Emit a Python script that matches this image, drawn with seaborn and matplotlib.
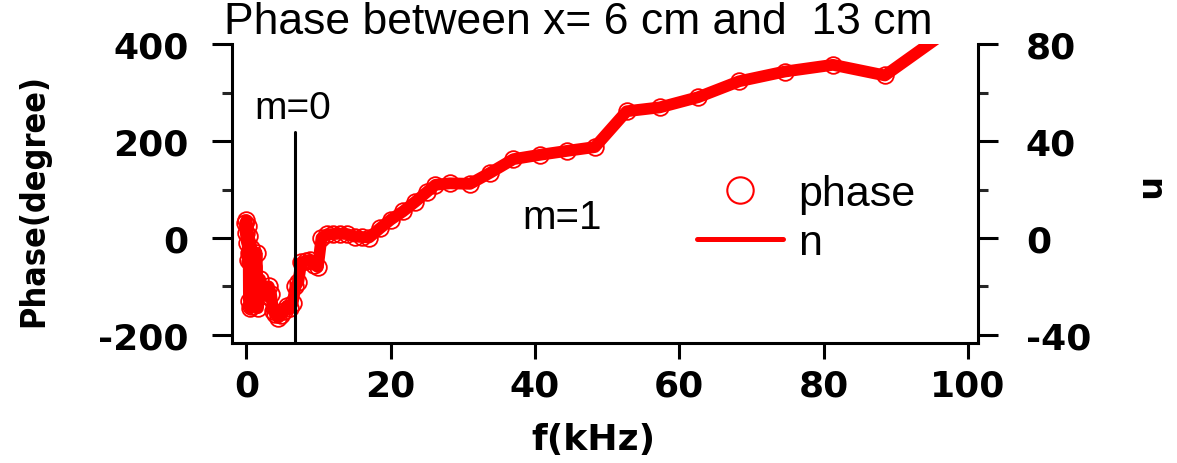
import matplotlib
matplotlib.use("Agg")
import matplotlib.pyplot as plt
import seaborn as sns
import pandas as pd
from matplotlib.lines import Line2D
from matplotlib.ticker import MultipleLocator

# ---- data ----
freq_khz = [-0.2, -0.1, 0.0, 0.1, 0.15, 0.2, 0.3, 0.35, 0.4, 0.5,
            0.55, 0.6, 0.7, 0.8, 0.9, 1.0, 1.2, 1.4, 1.6, 1.9,
            2.2, 2.5, 2.8, 3.1, 3.4, 3.7, 4.0, 4.4, 4.8, 5.2,
            5.6, 6.0, 6.4, 6.8, 7.2, 7.6, 8.2, 8.8, 9.4, 9.9,
            10.4, 11.2, 12.0, 13.0, 14.0, 15.0, 16.0, 17.0, 18.5, 20.0,
            21.7, 23.4, 25.0, 26.2, 28.2, 31.0, 33.8, 37.0, 40.7, 44.4,
            48.3, 52.7, 57.3, 62.6, 68.3, 74.6, 81.3, 88.5, 98.0]
phase_deg = [30, 10, 37, -10, 25, -45, 5, -130, -30, -145,
             -50, -140, -20, -125, -60, -135, -100, -30, -145, -85,
             -110, -105, -120, -100, -115, -150, -158, -165, -160, -150,
             -140, -145, -135, -100, -90, -50, -48, -45, -55, -60,
             0, 8, 8, 9, 8, 3, 2, 1, 20, 38,
             55, 75, 95, 110, 113, 112, 135, 163, 172, 180,
             188, 262, 270, 291, 324, 344, 358, 336, 437]
n_vals = [6, 2, 7.4, -2, 5, -9, 1, -26, -6, -29,
          -10, -28, -4, -25, -12, -27, -20, -6, -29, -17,
          -22, -21, -24, -20, -23, -30, -31.6, -33, -32, -30,
          -28, -29, -27, -20, -18, -10, -9.6, -9, -11, -12,
          0, 1.6, 1.6, 1.8, 1.6, 0.6, 0.4, 0.2, 4, 7.6,
          11, 15, 19, 22, 22.6, 22.4, 27, 32.6, 34.4, 36,
          37.6, 52.4, 54, 58.2, 64.8, 68.8, 71.6, 67.2, 87.4]
x_ticks = [0, 20, 40, 60, 80, 100]
phase_ticks = [-200, 0, 200, 400]
n_ticks = [-40, 0, 40, 80]
m_boundary_khz = 6.7
title_text = "Phase between x= 6 cm and  13 cm"

df = pd.DataFrame({"f": freq_khz, "phase": phase_deg, "n": n_vals})

sns.set_theme(style="ticks")
plt.rcParams["font.family"] = ["DejaVu Sans"]
plt.rcParams["axes.unicode_minus"] = False
plt.rcParams["text.color"] = "black"

fig = plt.figure(figsize=(11.77, 4.64), dpi=100)
ax = fig.add_axes([232 / 1177, 1 - 344 / 464, 746 / 1177, 299 / 464])
ax2 = ax.twinx()

# n line on right axis
sns.lineplot(data=df, x="f", y="n", ax=ax2, color="red", lw=8.5,
             estimator=None, sort=False, legend=False)
# phase circles on left axis
sns.lineplot(data=df, x="f", y="phase", ax=ax, color="red", lw=0,
             linestyle="", marker="o", markersize=12, markerfacecolor="none",
             markeredgecolor="red", markeredgewidth=1.3,
             estimator=None, sort=False, legend=False)

ax.set_zorder(ax2.get_zorder() + 1)
ax.patch.set_visible(False)

ax.set_xlim(-2.0, 101.4)
ax.set_ylim(-217, 401)
ax2.set_ylim(-217 / 5, 401 / 5)

ax.set_xticks(x_ticks)
ax.set_yticks(phase_ticks)
ax.yaxis.set_minor_locator(MultipleLocator(100))
ax2.set_yticks(n_ticks)
ax2.yaxis.set_minor_locator(MultipleLocator(20))

for a in (ax, ax2):
    a.spines["top"].set_visible(False)
    for s in a.spines.values():
        s.set_linewidth(2.2)
        s.set_color("black")
ax.spines["right"].set_visible(False)
ax2.spines["left"].set_visible(False)
ax2.spines["bottom"].set_visible(False)

ax.tick_params(axis="y", which="major", direction="out", length=14.4, width=2.2,
               pad=17, labelsize=26, colors="black", left=True)
ax.tick_params(axis="y", which="minor", direction="out", length=7, width=2.2, left=True)
ax.tick_params(axis="x", which="major", direction="out", length=11.5, width=2.2,
               pad=7, labelsize=26, colors="black", bottom=True)
ax2.tick_params(axis="y", which="major", direction="out", length=14.4, width=2.2,
                pad=20, labelsize=26, colors="black", right=True)
ax2.tick_params(axis="y", which="minor", direction="out", length=7, width=2.2, right=True)
for lab in ax.get_xticklabels() + ax.get_yticklabels() + ax2.get_yticklabels():
    lab.set_fontweight("bold")

ax.set_xlabel("f(kHz)", fontsize=26, fontweight="bold", color="black")
ax.xaxis.set_label_coords((593 - 232) / 746, (344 - 423) / 299)
ax.set_ylabel("Phase(degree)", fontsize=24.5, fontweight="bold", color="black",
              va="center", ha="center", fontstretch="condensed")
ax.yaxis.set_label_coords((34 - 232) / 746, (344 - 201) / 299)
ax2.set_ylabel("n", fontsize=24, fontweight="bold", color="black",
               rotation=270, va="center", ha="center")
ax2.yaxis.set_label_coords((1149 - 232) / 746, (344 - 190) / 299)

# m=0 / m=1 boundary
ax.axvline(m_boundary_khz, ymin=0, ymax=(220 + 217) / 618, color="black", lw=2.2)
ax.text(6.45, 268, "m=0", ha="center", va="center", fontsize=28,
        family="Liberation Sans", color="black")
ax.text(43.7, 43, "m=1", ha="center", va="center", fontsize=29,
        family="Liberation Sans", color="black")

fig.text(578 / 1177, 1 - 23 / 464, title_text, ha="center", va="center",
         fontsize=32, family="Liberation Sans", color="black")

handles = [Line2D([], [], marker="o", ls="", mfc="none", mec="red", ms=19, mew=1.5),
           Line2D([], [], color="red", lw=3.6)]
leg = ax.legend(handles, ["phase", "n"], loc="upper left",
                bbox_to_anchor=((697 - 232) / 746, (344 - 175) / 299),
                frameon=False, borderpad=0, borderaxespad=0, handlelength=2.0,
                handletextpad=0.36, labelspacing=0.2,
                prop={"family": "Liberation Sans", "size": 31})
for t in leg.get_texts():
    t.set_color("black")

fig.savefig("out.png", dpi=100)
